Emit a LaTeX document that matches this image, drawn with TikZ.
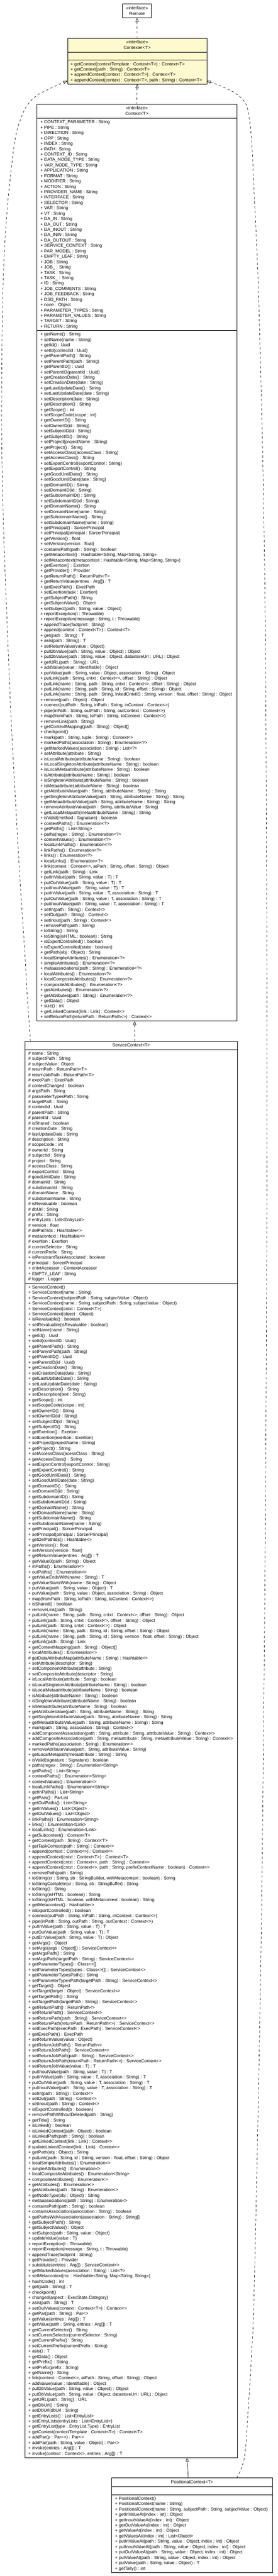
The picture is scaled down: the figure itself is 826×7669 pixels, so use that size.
\documentclass[tikz,border=0pt]{standalone}
\usepackage{fontspec}
\setmainfont{Liberation Sans}
\usetikzlibrary{arrows.meta}
\newcommand\umlfont{\fontsize{13.1bp}{16bp}\selectfont}
\newcommand\members[4]{\foreach \mtext [count=\mi] in {#4}{\node[member] (#1\mi) at (#2,{#3+16*(\mi-1)}) {\mtext};}}
\tikzset{
  umlbox/.style={draw, line width=1bp, inner sep=0pt, outer sep=0pt, anchor=north west},
  member/.style={anchor=base west, inner sep=0pt, outer sep=0pt, font=\umlfont},
  umltitle/.style={anchor=base, inner sep=0pt, outer sep=0pt, font=\umlfont},
  sepline/.style={line width=1bp},
  realize/.style={line width=1bp, dash pattern=on 7bp off 7bp, -{Triangle[open, length=12bp, width=9bp]}},
  extend/.style={line width=1bp, -{Triangle[open, length=12bp, width=9bp]}},
}
\definecolor{lemon}{RGB}{255,250,205}
\begin{document}
\begin{tikzpicture}[x={(1bp,0)}, y={(0,-1bp)}]
\fill[white] (0,0) rectangle (826,7669);
\useasboundingbox (0,0) rectangle (826,7669);

% Remote
\node[umlbox, minimum width=85.9bp, minimum height=41.4bp] (remote) at (364.6,11.6) {};
\node[umltitle] (remoteS) at (407.5,28.5) {«interface»};
\node[umltitle] (remoteN) at (407.5,45) {Remote};

% Contexter
\node[umlbox, fill=lemon, minimum width=414.2bp, minimum height=136.8bp] (contexter) at (200.7,113.6) {};
\node[umltitle] (contexterS) at (407.8,129) {«interface»};
\node[umltitle] (contexterN) at (407.8,146.5) {Contexter<T>};
\draw[sepline] (contexter.west |- 0,155) -- (contexter.east |- 0,155);
\draw[sepline] (contexter.west |- 0,179) -- (contexter.east |- 0,179);
\members{cxm}{209.7}{195}{{+ getContext(contextTemplate : Context<T>) : Context<T>},{+ getContext(path : String) : Context<T>},{+ appendContext(context : Context<T>) : Context<T>},{+ appendContext(context : Context<T>, path : String) : Context<T>}}

% Context
\node[umlbox, minimum width=594.8bp, minimum height=2728.6bp] (context) at (109.6,311) {};
\node[umltitle] (contextS) at (407,326.5) {«interface»};
\node[umltitle] (contextN) at (407,343.5) {Context<T>};
\draw[sepline] (context.west |- 0,352.4) -- (context.east |- 0,352.4);
\draw[sepline] (context.west |- 0,984) -- (context.east |- 0,984);
\members{cta}{120.1}{368}{{+ CONTEXT\_PARAMETER : String},{+ PIPE : String},{+ DIRECTION : String},{+ OPP : String},{+ INDEX : String},{+ PATH : String},{+ CONTEXT\_ID : String},{+ DATA\_NODE\_TYPE : String},{+ VAR\_NODE\_TYPE : String},{+ APPLICATION : String},{+ FORMAT : String},{+ MODIFIER : String},{+ ACTION : String},{+ PROVIDER\_NAME : String},{+ INTERFACE : String},{+ SELECTOR : String},{+ VAR : String},{+ VT : String},{+ DA\_IN : String},{+ DA\_OUT : String},{+ DA\_INOUT : String},{+ DA\_ININ : String},{+ DA\_OUTOUT : String},{+ SERVICE\_CONTEXT : String},{+ PAR\_MODEL : String},{+ EMPTY\_LEAF : String},{+ JOB : String},{+ JOB\_ : String},{+ TASK : String},{+ TASK\_ : String},{+ ID : String},{+ JOB\_COMMENTS : String},{+ JOB\_FEEDBACK : String},{+ DSD\_PATH : String},{+ none : Object},{+ PARAMETER\_TYPES : String},{+ PARAMETER\_VALUES : String},{+ TARGET : String},{+ RETURN : String}}
\members{ctm}{120.1}{1000}{{+ getName() : String},{+ setName(name : String)},{+ getId() : Uuid},{+ setId(contextId : Uuid)},{+ getParentPath() : String},{+ setParentPath(path : String)},{+ getParentID() : Uuid},{+ setParentID(parentId : Uuid)},{+ getCreationDate() : String},{+ setCreationDate(date : String)},{+ getLastUpdateDate() : String},{+ setLastUpdateDate(date : String)},{+ setDescription(date : String)},{+ getDescription() : String},{+ getScope() : int},{+ setScopeCode(scope : int)},{+ getOwnerID() : String},{+ setOwnerID(id : String)},{+ setSubjectID(id : String)},{+ getSubjectID() : String},{+ setProject(projectName : String)},{+ getProject() : String},{+ setAccessClass(accessClass : String)},{+ getAccessClass() : String},{+ setExportControl(exportControl : String)},{+ getExportControl() : String},{+ getGoodUntilDate() : String},{+ setGoodUntilDate(date : String)},{+ getDomainID() : String},{+ setDomainID(id : String)},{+ getSubdomainID() : String},{+ setSubdomainID(id : String)},{+ getDomainName() : String},{+ setDomainName(name : String)},{+ getSubdomainName() : String},{+ setSubdomainName(name : String)},{+ getPrincipal() : SorcerPrincipal},{+ setPrincipal(principal : SorcerPrincipal)},{+ getVersion() : float},{+ setVersion(version : float)},{+ containsPath(path : String) : boolean},{+ getMetacontext() : Hashtable<String, Map<String, String>>},{+ setMetacontext(metacontext : Hashtable<String, Map<String, String>>)},{+ getExertion() : Exertion},{+ getProvider() : Provider},{+ getReturnPath() : ReturnPath<T>},{+ getReturnValue(entries : Arg[]) : T},{+ getExecPath() : ExecPath},{+ setExertion(task : Exertion)},{+ getSubjectPath() : String},{+ getSubjectValue() : Object},{+ setSubject(path : String, value : Object)},{+ reportException(t : Throwable)},{+ reportException(message : String, t : Throwable)},{+ appendTrace(footprint : String)},{+ append(context : Context<T>) : Context<T>},{+ get(path : String) : T},{+ asis(path : String) : T},{+ setReturnValue(value : Object)},{+ putDbValue(path : String, value : Object) : Object},{+ putDbValue(path : String, value : Object, datastoreUrl : URL) : Object},{+ getURL(path : String) : URL},{+ addValue(value : Identifiable) : Object},{+ putValue(path : String, value : Object, association : String) : Object},{+ putLink(path : String, cntxt : Context<>, offset : String) : Object},{+ putLink(name : String, path : String, cntxt : Context<>, offset : String) : Object},{+ putLink(name : String, path : String, id : String, offset : String) : Object},{+ putLink(name : String, path : String, lnkedCntxtID : String, version : float, offset : String) : Object},{+ remove(path : Object) : Object},{+ connect(outPath : String, inPath : String, inContext : Context<>)},{+ pipe(inPath : String, outPath : String, outContext : Context<>)},{+ map(fromPath : String, toPath : String, toContext : Context<>)},{+ removeLink(path : String)},{+ getContextMapping(path : String) : Object[]},{+ checkpoint()},{+ mark(path : String, tuple : String) : Context<>},{+ markedPaths(association : String) : Enumeration<?>},{+ getMarkedValues(association : String) : List<?>},{+ setAttribute(attribute : String)},{+ isLocalAttribute(attributeName : String) : boolean},{+ isLocalSingletonAttribute(attributeName : String) : boolean},{+ isLocalMetaattribute(attributeName : String) : boolean},{+ isAttribute(attributeName : String) : boolean},{+ isSingletonAttribute(attributeName : String) : boolean},{+ isMetaattribute(attributeName : String) : boolean},{+ getAttributeValue(path : String, attributeName : String) : String},{+ getSingletonAttributeValue(path : String, attributeName : String) : String},{+ getMetaattributeValue(path : String, attributeName : String) : String},{+ removeAttributeValue(path : String, attributeValue : String)},{+ getLocalMetapath(metaattributeName : String) : String},{+ isValid(method : Signature) : boolean},{+ contextPaths() : Enumeration<?>},{+ getPaths() : List<String>},{+ paths(regex : String) : Enumeration<?>},{+ contextValues() : Enumeration<?>},{+ localLinkPaths() : Enumeration<?>},{+ linkPaths() : Enumeration<?>},{+ links() : Enumeration<?>},{+ localLinks() : Enumeration<?>},{+ link(context : Context<>, atPath : String, offset : String) : Object},{+ getLink(path : String) : Link},{+ putInValue(path : String, value : T) : T},{+ putOutValue(path : String, value : T) : T},{+ putInoutValue(path : String, value : T) : T},{+ putInValue(path : String, value : T, association : String) : T},{+ putOutValue(path : String, value : T, association : String) : T},{+ putInoutValue(path : String, value : T, association : String) : T},{+ setIn(path : String) : Context<>},{+ setOut(path : String) : Context<>},{+ setInout(path : String) : Context<>},{+ removePath(path : String)},{+ toString() : String},{+ toString(isHTML : boolean) : String},{+ isExportControlled() : boolean},{+ isExportControlled(state : boolean)},{+ getPath(obj : Object) : String},{+ localSimpleAttributes() : Enumeration<?>},{+ simpleAttributes() : Enumeration<?>},{+ metaassociations(path : String) : Enumeration<?>},{+ localAttributes() : Enumeration<?>},{+ localCompositeAttributes() : Enumeration<?>},{+ compositeAttributes() : Enumeration<?>},{+ getAttributes() : Enumeration<?>},{+ getAttributes(path : String) : Enumeration<?>},{+ getData() : Object},{+ size() : int},{+ getLinkedContext(link : Link) : Context<>},{+ setReturnPath(returnPath : ReturnPath<>) : Context<>}}

% ServiceContext
\node[umlbox, minimum width=630.7bp, minimum height=4216.6bp] (svc) at (74.8,3100) {};
\node[umltitle] (svcN) at (390.2,3116.5) {ServiceContext<T>};
\draw[sepline] (svc.west |- 0,3124.8) -- (svc.east |- 0,3124.8);
\draw[sepline] (svc.west |- 0,3820.9) -- (svc.east |- 0,3820.9);
\members{sva}{84.3}{3140.5}{{\# name : String},{\# subjectPath : String},{\# subjectValue : Object},{\# returnPath : ReturnPath<T>},{\# returnJobPath : ReturnPath<T>},{\# execPath : ExecPath},{\# contextChanged : boolean},{\# argsPath : String},{\# parameterTypesPath : String},{\# targetPath : String},{\# contextId : Uuid},{\# parentPath : String},{\# parentId : Uuid},{\# isShared : boolean},{\# creationDate : String},{\# lastUpdateDate : String},{\# description : String},{\# scopeCode : int},{\# ownerId : String},{\# subjectId : String},{\# project : String},{\# accessClass : String},{\# exportControl : String},{\# goodUntilDate : String},{\# domainId : String},{\# subdomainId : String},{\# domainName : String},{\# subdomainName : String},{\# isRevaluable : boolean},{\# dbUrl : String},{\# prefix : String},{\# entryLists : List<EntryList>},{\# version : float},{\# delPathIds : Hashtable<>},{\# metacontext : Hashtable<>},{\# exertion : Exertion},{\# currentSelector : String},{\# currentPrefix : String},{+ isPersistantTaskAssociated : boolean},{\# principal : SorcerPrincipal},{+ cntxtAccessor : ContextAccessor},{+ EMPTY\_LEAF : String},{\# logger : Logger}}
\members{svm}{84.3}{3836.5}{{+ ServiceContext()},{+ ServiceContext(name : String)},{+ ServiceContext(subjectPath : String, subjectValue : Object)},{+ ServiceContext(name : String, subjectPath : String, subjectValue : Object)},{+ ServiceContext(cntxt : Context<T>)},{+ ServiceContext(object : Object)},{+ isRevaluable() : boolean},{+ setRevaluable(isRevaluable : boolean)},{+ setName(name : String)},{+ getId() : Uuid},{+ setId(contextID : Uuid)},{+ getParentPath() : String},{+ setParentPath(path : String)},{+ getParentID() : Uuid},{+ setParentID(id : Uuid)},{+ getCreationDate() : String},{+ setCreationDate(date : String)},{+ getLastUpdateDate() : String},{+ setLastUpdateDate(date : String)},{+ getDescription() : String},{+ setDescription(text : String)},{+ getScope() : int},{+ setScopeCode(scope : int)},{+ getOwnerID() : String},{+ setOwnerID(id : String)},{+ setSubjectID(id : String)},{+ getSubjectID() : String},{+ getExertion() : Exertion},{+ setExertion(exertion : Exertion)},{+ setProject(projectName : String)},{+ getProject() : String},{+ setAccessClass(acessClass : String)},{+ getAccessClass() : String},{+ setExportControl(exportControl : String)},{+ getExportControl() : String},{+ getGoodUntilDate() : String},{+ setGoodUntilDate(date : String)},{+ getDomainID() : String},{+ setDomainID(id : String)},{+ getSubdomainID() : String},{+ setSubdomainID(id : String)},{+ getDomainName() : String},{+ setDomainName(name : String)},{+ getSubdomainName() : String},{+ setSubdomainName(name : String)},{+ getPrincipal() : SorcerPrincipal},{+ setPrincipal(principal : SorcerPrincipal)},{+ getDelPathIds() : Hashtable<>},{+ getVersion() : float},{+ setVersion(version : float)},{+ getReturnValue(entries : Arg[]) : T},{+ getValue0(path : String) : Object},{+ inPaths() : Enumeration<>},{+ outPaths() : Enumeration<>},{+ getValueEndsWith(name : String) : T},{+ getValueStartsWith(name : String) : Object},{+ putValue(path : String, value : Object) : T},{+ putValue(path : String, value : Object, association : String) : Object},{+ map(fromPath : String, toPath : String, toContext : Context<>)},{+ isShared() : boolean},{+ removeLink(path : String)},{+ putLink(name : String, path : String, cntxt : Context<>, offset : String) : Object},{+ putLink(path : String, cntxt : Context<>, offset : String) : Object},{+ putLink(path : String, cntxt : Context<>) : Object},{+ putLink(name : String, path : String, id : String, offset : String) : Object},{+ putLink(name : String, path : String, id : String, version : float, offset : String) : Object},{+ getLink(path : String) : Link},{+ getContextMapping(path : String) : Object[]},{+ localAttributes() : Enumeration<>},{\# getDataAttributeMap(attributeName : String) : Hashtable<>},{+ setAttribute(descriptor : String)},{+ setComponentAttribute(attribute : String)},{+ setCompositeAttribute(descriptor : String)},{+ isLocalAttribute(attribute : String) : boolean},{+ isLocalSingletonAttribute(attributeName : String) : boolean},{+ isLocalMetaattribute(attributeName : String) : boolean},{+ isAttribute(attributeName : String) : boolean},{+ isSingletonAttribute(attributeName : String) : boolean},{+ isMetaattribute(attributeName : String) : boolean},{+ getAttributeValue(path : String, attributeName : String) : String},{+ getSingletonAttributeValue(path : String, attributeName : String) : String},{+ getMetaattributeValue(path : String, attributeName : String) : String},{+ mark(path : String, association : String) : Context<>},{+ addComponentAssociation(path : String, attribute : String, attributeValue : String) : Context<>},{+ addCompositeAssociation(path : String, metaattribute : String, metaattributeValue : String) : Context<>},{+ markedPaths(association : String) : Enumeration<>},{+ removeAttributeValue(path : String, attributeValue : String)},{+ getLocalMetapath(metaattribute : String) : String},{+ isValid(signature : Signature) : boolean},{+ paths(regex : String) : Enumeration<String>},{+ getPaths() : List<String>},{+ contextPaths() : Enumeration<String>},{+ contextValues() : Enumeration<>},{+ localLinkPaths() : Enumeration<String>},{+ getInPaths() : List<String>},{+ getPars() : ParList},{+ getOutPaths() : List<String>},{+ getInValues() : List<Object>},{+ getOutValues() : List<Object>},{+ linkPaths() : Enumeration<String>},{+ links() : Enumeration<Link>},{+ localLinks() : Enumeration<Link>},{+ getSubcontext() : Context<T>},{+ getContext(path : String) : Context<T>},{+ getTaskContext(path : String) : Context<>},{+ append(context : Context<>) : Context<>},{+ appendContext(cntxt : Context<T>) : Context<T>},{+ appendContext(cntxt : Context<>, path : String) : Context<>},{+ appendContext(cntxt : Context<>, path : String, prefixContextName : boolean) : Context<>},{+ removePath(path : String)},{+ toString(cr : String, sb : StringBuilder, withMetacontext : boolean) : String},{+ toStringComplete(cr : String, sb : StringBuffer) : String},{+ toString() : String},{+ toString(isHTML : boolean) : String},{+ toString(isHTML : boolean, withMetacontext : boolean) : String},{+ getMetacontext() : Hashtable<>},{+ isExportControlled() : boolean},{+ connect(outPath : String, inPath : String, inContext : Context<>)},{+ pipe(inPath : String, outPath : String, outContext : Context<>)},{+ putInValue(path : String, value : T) : T},{+ putOutValue(path : String, value : T) : T},{+ putErrValue(path : String, value : T) : Object},{+ getArgs() : Object},{+ setArgs(args : Object[]) : ServiceContext<>},{+ getArgsPath() : String},{+ setArgsPath(targetPath : String) : ServiceContext<>},{+ getParameterTypes() : Class<>[]},{+ setParameterTypes(types : Class<>[]) : ServiceContext<>},{+ getParameterTypesPath() : String},{+ setParameterTypesPath(targetPath : String) : ServiceContext<>},{+ getTarget() : Object},{+ setTarget(target : Object) : ServiceContext<>},{+ getTargetPath() : String},{+ setTargetPath(targetPath : String) : ServiceContext<>},{+ getReturnPath() : ReturnPath<>},{+ setReturnPath() : ServiceContext<>},{+ setReturnPath(path : String) : ServiceContext<>},{+ setReturnPath(returnPath : ReturnPath<>) : ServiceContext<>},{+ setExecPath(execPath : ExecPath) : ServiceContext<>},{+ getExecPath() : ExecPath},{+ setReturnValue(value : Object)},{+ getReturnJobPath() : ReturnPath<>},{+ setReturnJobPath() : ServiceContext<>},{+ setReturnJobPath(path : String) : ServiceContext<>},{+ setReturnJobPath(returnPath : ReturnPath<>) : ServiceContext<>},{+ setReturnJobValue(value : T) : T},{+ putInoutValue(path : String, value : T) : T},{+ putInValue(path : String, value : T, association : String) : T},{+ putOutValue(path : String, value : T, association : String) : T},{+ putInoutValue(path : String, value : T, association : String) : T},{+ setIn(path : String) : Context<>},{+ setOut(path : String) : Context<>},{+ setInout(path : String) : Context<>},{+ isExportControlled(b : boolean)},{+ removePathWithoutDeleted(path : String)},{+ getTitle() : String},{+ isLinked() : boolean},{+ isLinkedContext(path : Object) : boolean},{+ isLinkedPath(path : String) : boolean},{+ getLinkedContext(link : Link) : Context<>},{\# updateLinkedContext(link : Link) : Context<>},{+ getPath(obj : Object) : String},{+ putLink(path : String, id : String, version : float, offset : String) : Object},{+ localSimpleAttributes() : Enumeration<>},{+ simpleAttributes() : Enumeration<>},{+ localCompositeAttributes() : Enumeration<String>},{+ compositeAttributes() : Enumeration<>},{+ getAttributes() : Enumeration<>},{+ getAttributes(path : String) : Enumeration<>},{+ getNodeType(obj : Object) : String},{+ metaassociations(path : String) : Enumeration<>},{+ containsPath(path : String) : boolean},{+ containsAssociation(association : String) : boolean},{+ getPathsWithAssociation(association : String) : String[]},{+ getSubjectPath() : String},{+ getSubjectValue() : Object},{+ setSubject(path : String, value : Object)},{+ updateValue(value : T)},{+ reportException(t : Throwable)},{+ reportException(message : String, t : Throwable)},{+ appendTrace(footprint : String)},{+ getProvider() : Provider},{+ substitute(entries : Arg[]) : ServiceContext<>},{+ getMarkedValues(association : String) : List<?>},{+ setMetacontext(mc : Hashtable<String, Map<String, String>>)},{+ hashCode() : int},{+ get(path : String) : T},{+ checkpoint()},{+ changed(aspect : ExecState.Category)},{+ asis(path : String) : T},{+ setOutValues(context : Context<T>) : Context<>},{+ getPar(path : String) : Par<>},{+ getValue(entries : Arg[]) : T},{+ getValue(path : String, entries : Arg[]) : T},{+ getCurrentSelector() : String},{+ setCurrentSelector(currentSelector : String)},{+ getCurrentPrefix() : String},{+ setCurrentPrefix(currentPrefix : String)},{+ asis() : T},{+ getData() : Object},{+ getPrefix() : String},{+ setPrefix(prefix : String)},{+ getName() : String},{+ link(context : Context<>, atPath : String, offset : String) : Object},{+ addValue(value : Identifiable) : Object},{+ putDbValue(path : String, value : Object) : Object},{+ putDbValue(path : String, value : Object, datastoreUrl : URL) : Object},{+ getURL(path : String) : URL},{+ getDbUrl() : String},{+ setDbUrl(dbUrl : String)},{+ getEntryLists() : List<EntryList>},{+ setEntryLists(entryLists : List<EntryList>)},{+ getEntryList(type : EntryList.Type) : EntryList},{+ getContext(contextTemplate : Context<T>) : Context<T>},{+ addPar(p : Par<>) : Par<>},{+ addPar(path : String, value : Object) : Par<>},{+ invoke(entries : Arg[]) : T},{+ invoke(context : Context<>, entries : Arg[]) : T}}

% PositionalContext
\node[umlbox, minimum width=477.3bp, minimum height=281.1bp] (pos) at (332.5,7376.9) {};
\node[umltitle] (posN) at (571.2,7393.5) {PositionalContext<T>};
\draw[sepline] (pos.west |- 0,7402) -- (pos.east |- 0,7402);
\draw[sepline] (pos.west |- 0,7426.5) -- (pos.east |- 0,7426.5);
\members{psm}{342}{7442.5}{{+ PositionalContext()},{+ PositionalContext(name : String)},{+ PositionalContext(name : String, subjectPath : String, subjectValue : Object)},{+ getInValueAt(index : int) : Object},{+ getInoutValueAt(index : int) : Object},{+ getOutValueAt(index : int) : Object},{+ getValueAt(index : int) : Object},{+ getValuesAt(index : int) : List<Object>},{+ putInValueAt(path : String, value : Object, index : int) : Object},{+ putInoutValueAt(path : String, value : Object, index : int) : Object},{+ putOutValueAt(path : String, value : Object, index : int) : Object},{+ putValueAt(path : String, value : Object, index : int) : Object},{+ putValue(path : String, value : Object) : T},{+ getTally() : int}}

% connectors
\draw[realize] (contexter.north) -- (remote.south);
\draw[realize] (context.north) -- (contexter.south);
\draw[realize] ([xshift=10.2bp]svc.north) -- ([xshift=10.2bp]svc.north |- context.south);
\draw[extend] ([xshift=-11.2bp]pos.north) -- ([xshift=165.8bp]svc.south);
\coordinate (lA) at ([xshift=15.8bp]svc.north west);
\coordinate (lB) at ([yshift=9.9bp]contexter.south west);
\draw[realize] plot[smooth, tension=0.6] coordinates {(lA) (80,2949) (73.8,2836) (59,2611) (46.4,2390) (32.7,2132) (21,1851) (10.5,1570) (5,1300) (5.5,1078) (7.6,912) (13.2,746) (25.3,580) (45,415) (64,348) (82,312) (110,284) (152,262) (lB)};
\coordinate (rA) at ([xshift=371.9bp]pos.north west);
\coordinate (rB) at ([yshift=9.9bp]contexter.south east);
\draw[realize] plot[smooth, tension=0.6] coordinates {(rA) (727,7315) (737.6,7180) (748,7010) (756.6,6788) (774.5,5908) (785,5028) (791.4,4147) (794,3268) (792,2390) (788.7,1851) (785,1570) (780,1300) (770,912) (764,746) (756,580) (748,415) (737.6,332) (727,303) (700.7,278) (658.6,257) (rB)};
\end{tikzpicture}
\end{document}
